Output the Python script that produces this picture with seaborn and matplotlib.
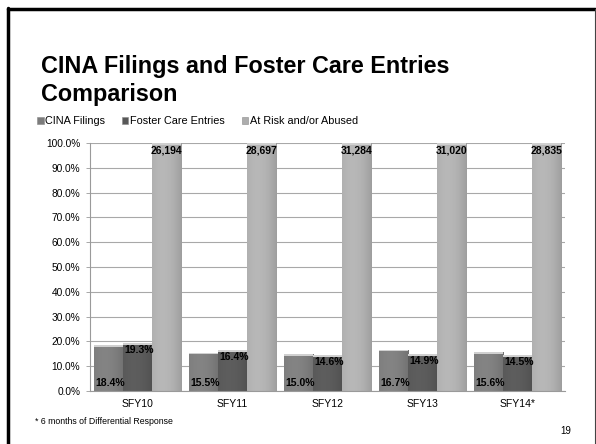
import numpy as np
import pandas as pd
import matplotlib
matplotlib.use("Agg")
import matplotlib.pyplot as plt
import seaborn as sns
from matplotlib.patches import Rectangle

years = ["SFY10", "SFY11", "SFY12", "SFY13", "SFY14*"]
cina_pct = [18.4, 15.5, 15.0, 16.7, 15.6]
foster_pct = [19.3, 16.4, 14.6, 14.9, 14.5]
at_risk_pct = [100.0, 100.0, 100.0, 100.0, 100.0]
at_risk_counts = ["26,194", "28,697", "31,284", "31,020", "28,835"]
series_names = ["CINA Filings", "Foster Care Entries", "At Risk and/or Abused"]
series_colors = ["#7c7c7c", "#585858", "#adadad"]
y_ticks = [0, 10, 20, 30, 40, 50, 60, 70, 80, 90, 100]

sns.set_theme(style="white")
plt.rcParams["font.family"] = ["Liberation Sans", "DejaVu Sans"]
plt.rcParams["text.color"] = "black"
plt.rcParams["xtick.color"] = "black"
plt.rcParams["ytick.color"] = "black"

df = pd.DataFrame({
    "year": years * 3,
    "pct": cina_pct + foster_pct + at_risk_pct,
    "series": [s for s in series_names for _ in years],
})

fig = plt.figure(figsize=(5.96, 4.44), dpi=100)
ax = fig.add_axes([90 / 596, 1 - 391 / 444, 475 / 596, 248 / 444])

sns.barplot(data=df, x="year", y="pct", hue="series", hue_order=series_names,
            order=years, palette=series_colors, width=0.92, gap=0,
            saturation=1, legend=False, ax=ax, zorder=3)

# gentle cylindrical shading on each bar
grad = np.linspace(0, 1, 64)
shade = 1.06 - 0.35 * (grad - 0.35) ** 2
for patch in ax.patches:
    x0, y0 = patch.get_x(), patch.get_y()
    w, h = patch.get_width(), patch.get_height()
    rgb = np.array(matplotlib.colors.to_rgb(patch.get_facecolor()))
    img = np.clip(rgb[None, None, :] * shade[None, :, None], 0, 1)
    im = ax.imshow(img, extent=(x0, x0 + w, y0, y0 + h), aspect="auto",
                   zorder=3.5, interpolation="bilinear")
    im.set_clip_path(patch)
    patch.set_edgecolor("#8a8a8a")
    patch.set_linewidth(0.4)
    ax.add_patch(Rectangle((x0, y0 + h - 0.7), w, 0.7, facecolor="#d0d0d0",
                           edgecolor="none", zorder=4))

ax.set_xlim(-0.5, len(years) - 0.5)
ax.set_ylim(0, 100)
ax.set_yticks(y_ticks)
ax.set_yticklabels([f"{t:.1f}%" for t in y_ticks], fontsize=7.3)
ax.tick_params(axis="x", labelsize=7.5, length=0, pad=6)
ax.tick_params(axis="y", length=3, width=0.6, color="#9a9a9a", left=True, pad=4)
ax.set_xlabel("")
ax.set_ylabel("")
ax.grid(axis="y", color="#a8a8a8", linewidth=0.8, zorder=0)
for side in ["top", "right"]:
    ax.spines[side].set_visible(False)
for side in ["left", "bottom"]:
    ax.spines[side].set_color("#9a9a9a")
    ax.spines[side].set_linewidth(0.8)
    ax.spines[side].set_zorder(5)

# value labels
bw = 0.92 / 3
for i in range(len(years)):
    xc = i - bw
    ax.text(xc - bw / 2 + 0.02, 1.2, f"{cina_pct[i]:.1f}%", fontsize=7.5,
            fontweight="bold", ha="left", va="bottom", zorder=6)
    xf = i
    ax.text(xf - bw / 2 + 0.02, foster_pct[i] - 0.8, f"{foster_pct[i]:.1f}%",
            fontsize=7.5, fontweight="bold", ha="left", va="top", zorder=6)
    xa = i + bw
    ax.text(xa, at_risk_pct[i] - 1.2, at_risk_counts[i], fontsize=7.5,
            fontweight="bold", ha="center", va="top", zorder=6)

# title and legend
fig.text(41 / 596, 1 - 73 / 444, "CINA Filings and Foster Care Entries",
         fontsize=16.8, fontweight="bold", ha="left", va="baseline")
fig.text(41 / 596, 1 - 101 / 444, "Comparison",
         fontsize=16.8, fontweight="bold", ha="left", va="baseline")

handles = [Rectangle((0, 0), 1, 1, facecolor=c, edgecolor="#8a8a8a", linewidth=0.4)
           for c in series_colors]
fig.legend(handles, series_names, loc="center left",
           bbox_to_anchor=(37 / 596, 1 - 121 / 444), ncol=3, frameon=False,
           fontsize=7.8, handlelength=0.6, handleheight=0.6, handletextpad=0.15,
           columnspacing=1.55, borderaxespad=0, borderpad=0)

fig.text(35 / 596, 1 - 421 / 444, "* 6 months of Differential Response",
         fontsize=6.3, ha="left", va="center")
fig.text(566 / 596, 1 - 431 / 444, "19", fontsize=7, ha="center", va="center")

# slide frame
fig.add_artist(plt.Line2D([8 / 596, 8 / 596], [0, 1 - 8 / 444],
                          transform=fig.transFigure, color="black", linewidth=2.5))
fig.add_artist(plt.Line2D([8 / 596, 595 / 596], [1 - 9 / 444, 1 - 9 / 444],
                          transform=fig.transFigure, color="black", linewidth=2.5))
fig.add_artist(plt.Line2D([594.5 / 596, 594.5 / 596], [0, 1 - 9 / 444],
                          transform=fig.transFigure, color="#444444", linewidth=0.8))

fig.savefig("out.png", dpi=100)
